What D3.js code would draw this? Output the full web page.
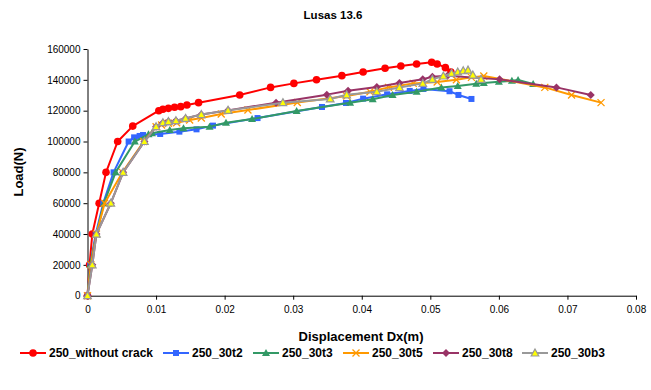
<!DOCTYPE html>
<html>
<head>
<meta charset="utf-8">
<script src="https://cdn.jsdelivr.net/npm/d3@7"></script>
<style>
  html, body { margin: 0; padding: 0; background: #fff; }
  svg { display: block; font-family: "Liberation Sans", Arial, sans-serif; }
</style>
</head>
<body>
<svg id="chart" width="651" height="390"></svg>
<script>
// Load–displacement curves, displacement Dx in metres, load in newtons
const seriesNames = ["250_without crack", "250_30t2", "250_30t3", "250_30t5", "250_30t8", "250_30b3"];

const withoutCrack = [
  [0, 0], [0.0003, 20000], [0.0007, 40000], [0.0017, 60000], [0.0027, 80000],
  [0.0044, 100000], [0.0066, 110000], [0.0104, 120000], [0.0110, 120900],
  [0.0118, 121500], [0.0127, 122200], [0.0136, 122600], [0.0145, 123700],
  [0.0162, 125200], [0.0222, 130200], [0.0267, 135100], [0.0301, 137700],
  [0.0334, 140100], [0.0371, 142700], [0.0402, 145100], [0.0434, 147500],
  [0.0457, 149000], [0.0480, 150300], [0.0502, 151400], [0.0510, 150300],
  [0.0522, 147900], [0.0530, 145100]
];
const t2 = [
  [0, 0], [0.0004, 20000], [0.0012, 40000], [0.0023, 60000], [0.0038, 80000],
  [0.0060, 100000], [0.0068, 102700], [0.0076, 103600], [0.0081, 104200],
  [0.0106, 104900], [0.0134, 106400], [0.0159, 107900], [0.0183, 110300],
  [0.0248, 115200], [0.0342, 122400], [0.0377, 125000], [0.0402, 127800],
  [0.0437, 130600], [0.0470, 132800], [0.0490, 134100], [0.0528, 132600],
  [0.0541, 130200], [0.0560, 127600]
];
const t3 = [
  [0, 0], [0.0004, 20000], [0.0013, 40000], [0.0024, 60000], [0.0041, 80000],
  [0.0069, 100000], [0.0089, 104700], [0.0094, 105300], [0.0120, 107500],
  [0.0140, 108600], [0.0178, 109600], [0.0202, 112200], [0.0240, 114600],
  [0.0305, 119800], [0.0383, 125200], [0.0416, 127400], [0.0445, 130200],
  [0.0480, 132300], [0.0516, 135000], [0.0540, 136000], [0.0567, 137400],
  [0.0578, 138000], [0.0600, 138800], [0.0619, 139400], [0.0628, 139900],
  [0.0650, 137300]
];
const t5 = [
  [0, 0], [0.0005, 20000], [0.0013, 40000], [0.0025, 60000], [0.0051, 80000],
  [0.0082, 100000], [0.0100, 109600], [0.0108, 110700], [0.0118, 111800],
  [0.0130, 112200], [0.0149, 113900], [0.0166, 115300], [0.0195, 117800],
  [0.0234, 120400], [0.0306, 125300], [0.0378, 129500], [0.0412, 132300],
  [0.0439, 135100], [0.0475, 137700], [0.0510, 138600], [0.0538, 140100],
  [0.0560, 141600], [0.0578, 142500], [0.0667, 135100], [0.0706, 130200],
  [0.0749, 125200]
];
const t8 = [
  [0, 0], [0.0007, 20000], [0.0013, 40000], [0.0034, 60000], [0.0052, 80000],
  [0.0083, 100000], [0.0100, 109600], [0.0110, 112200], [0.0118, 112900],
  [0.0129, 113500], [0.0143, 115000], [0.0166, 117500], [0.0205, 120200],
  [0.0275, 125200], [0.0349, 130400], [0.0380, 132900], [0.0422, 135300],
  [0.0455, 137900], [0.0489, 140400], [0.0503, 142000], [0.0525, 142700],
  [0.0601, 140300], [0.0684, 135100], [0.0734, 130200]
];
const b3 = [
  [0, 0], [0.0007, 20000], [0.0013, 40000], [0.0034, 60000], [0.0052, 80000],
  [0.0083, 100000], [0.0100, 109600], [0.0110, 112200], [0.0118, 112900],
  [0.0129, 113500], [0.0143, 115000], [0.0166, 117500], [0.0205, 120200],
  [0.0285, 125200], [0.0354, 127600], [0.0378, 130300], [0.0422, 132300],
  [0.0455, 135000], [0.0489, 137700], [0.0503, 140300], [0.0519, 142500],
  [0.0531, 144200], [0.0540, 145100], [0.0548, 145900], [0.0555, 146300],
  [0.0562, 143100], [0.0574, 140300]
];

const xTicks = [0, 0.01, 0.02, 0.03, 0.04, 0.05, 0.06, 0.07, 0.08];
const yTicks = [0, 20000, 40000, 60000, 80000, 100000, 120000, 140000, 160000];

const series = [
  { name: seriesNames[0], data: withoutCrack, color: "#FF0000", marker: "circle" },
  { name: seriesNames[1], data: t2, color: "#3366FF", marker: "square" },
  { name: seriesNames[2], data: t3, color: "#339966", marker: "triangle" },
  { name: seriesNames[3], data: t5, color: "#FF9900", marker: "x" },
  { name: seriesNames[4], data: t8, color: "#993366", marker: "diamond" },
  { name: seriesNames[5], data: b3, color: "#999999", marker: "triangleY" }
];

const svg = d3.select("#chart");
const plotLeft = 87.5, plotRight = 636, plotTop = 49, plotBottom = 295.7;

const x = d3.scaleLinear().domain([0, 0.08]).range([plotLeft, plotRight]);
const y = d3.scaleLinear().domain([0, 160000]).range([plotBottom, plotTop]);

// Title
svg.append("text").attr("x", 333).attr("y", 19).attr("text-anchor", "middle")
  .attr("font-size", 11.5).attr("font-weight", "bold").text("Lusas 13.6");

// Axes
const xAxis = d3.axisBottom(x).tickValues(xTicks).tickSize(4).tickSizeOuter(0)
  .tickFormat(d => d === 0 ? "0" : d3.format(".2f")(d));
const gx = svg.append("g").attr("transform", `translate(0,${plotBottom})`).call(xAxis);
gx.select(".domain").attr("stroke", "#000");
gx.selectAll(".tick line").attr("stroke", "#000");
gx.selectAll("text").attr("font-size", 10).attr("fill", "#000").attr("dy", "1.05em")
  .attr("font-family", "Liberation Sans, Arial, sans-serif");

const yAxis = d3.axisLeft(y).tickValues(yTicks).tickSize(4).tickSizeOuter(0)
  .tickFormat(d3.format("d"));
const gy = svg.append("g").attr("transform", `translate(${plotLeft},0)`).call(yAxis);
gy.select(".domain").attr("stroke", "#000");
gy.selectAll(".tick line").attr("stroke", "#000");
gy.selectAll("text").attr("font-size", 10).attr("fill", "#000").attr("x", -7)
  .attr("font-family", "Liberation Sans, Arial, sans-serif");

// Axis titles
svg.append("text").attr("x", 361).attr("y", 341).attr("text-anchor", "middle")
  .attr("font-size", 13).attr("font-weight", "bold").text("Displacement Dx(m)");
svg.append("text").attr("transform", "translate(23,172) rotate(-90)")
  .attr("text-anchor", "middle").attr("font-size", 13).attr("font-weight", "bold")
  .text("Load(N)");

// Marker drawing
function drawMarker(g, type, color, cx, cy) {
  if (type === "circle") {
    g.append("circle").attr("cx", cx).attr("cy", cy).attr("r", 3.8).attr("fill", color);
  } else if (type === "square") {
    g.append("rect").attr("x", cx - 3).attr("y", cy - 3).attr("width", 6).attr("height", 6).attr("fill", color);
  } else if (type === "triangle") {
    g.append("path").attr("d", `M${cx},${cy - 4}L${cx + 4},${cy + 3}L${cx - 4},${cy + 3}Z`).attr("fill", color);
  } else if (type === "triangleY") {
    g.append("path").attr("d", `M${cx},${cy - 4}L${cx + 3.8},${cy + 3}L${cx - 3.8},${cy + 3}Z`)
      .attr("fill", "#FFFF00").attr("stroke", color).attr("stroke-width", 1.2);
  } else if (type === "diamond") {
    g.append("path").attr("d", `M${cx},${cy - 4}L${cx + 4},${cy}L${cx},${cy + 4}L${cx - 4},${cy}Z`).attr("fill", color);
  } else if (type === "x") {
    g.append("path").attr("d", `M${cx - 3.5},${cy - 3.5}L${cx + 3.5},${cy + 3.5}M${cx + 3.5},${cy - 3.5}L${cx - 3.5},${cy + 3.5}`)
      .attr("stroke", color).attr("stroke-width", 1.3).attr("fill", "none");
  }
}

// Series
const line = d3.line().x(d => x(d[0])).y(d => y(d[1]));
series.forEach(s => {
  const g = svg.append("g");
  g.append("path").datum(s.data).attr("d", line).attr("fill", "none")
    .attr("stroke", s.color).attr("stroke-width", 2).attr("stroke-linejoin", "round");
  s.data.forEach(d => drawMarker(g, s.marker, s.color, x(d[0]), y(d[1])));
});

// Legend
const legendX = [20, 163, 253, 343, 433, 522];
const legendY = 353;
series.forEach((s, i) => {
  const g = svg.append("g");
  const lx = legendX[i];
  g.append("line").attr("x1", lx).attr("x2", lx + 26).attr("y1", legendY).attr("y2", legendY)
    .attr("stroke", s.color).attr("stroke-width", 2);
  drawMarker(g, s.marker, s.color, lx + 13, legendY);
  g.append("text").attr("x", lx + 29).attr("y", legendY + 4).attr("font-size", 12)
    .attr("font-weight", "bold").text(s.name);
});
</script>
</body>
</html>
